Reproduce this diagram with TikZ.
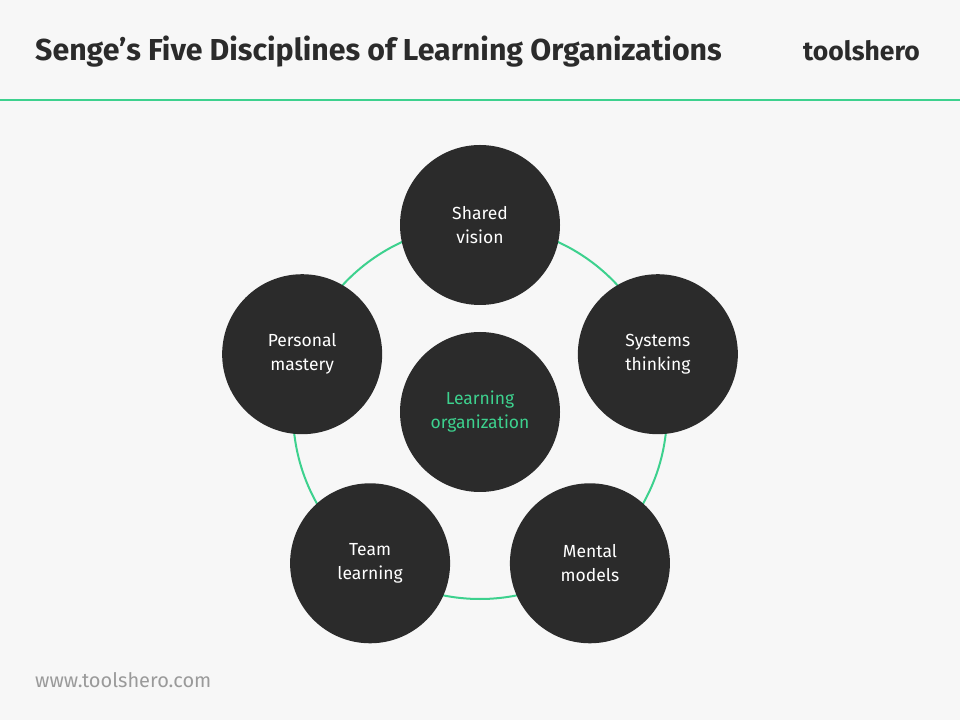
\documentclass[tikz,border=0pt]{standalone}
\usepackage{fontspec}
\setmainfont{Fira Sans}
\usepackage{xcolor}
\usetikzlibrary{positioning}
\definecolor{bg}{HTML}{F7F7F7}
\definecolor{disc}{HTML}{2B2B2B}
\definecolor{accent}{HTML}{3DD18E}
\definecolor{fg}{HTML}{2B2B2B}
\definecolor{muted}{HTML}{9A9A9A}

\begin{document}
\begin{tikzpicture}[x=1pt, y=1pt,
    discipline/.style={circle, fill=disc, text=white, minimum size=160pt,
      inner sep=0pt, align=center, font=\fontsize{17.5}{24}\selectfont}]
  \fill[bg] (0,0) rectangle (960,720);
  \useasboundingbox (0,0) rectangle (960,720);

  % header
  \node[anchor=base west, inner sep=0pt, text=fg,
        font=\fontsize{30.3}{34}\selectfont\bfseries] (title) at (35,659)
    {Senge’s Five Disciplines of Learning Organizations};
  \node[anchor=base east, inner sep=0pt, text=fg,
        font=\fontsize{26.5}{30}\selectfont\bfseries] (brand) at (920,659) {toolshero};
  \draw[accent, line width=2.5pt] (0,620) -- (960,620);

  % ring and disciplines
  \coordinate (hub) at (480,308);
  \draw[accent, line width=2pt] (hub) circle (187);
  \node[discipline] (vision)  at ([shift={(90:187)}]hub)  {Shared\\vision};
  \node[discipline] (systems) at ([shift={(18:187)}]hub)  {Systems\\thinking};
  \node[discipline] (models)  at ([shift={(-54:187)}]hub) {Mental\\models};
  \node[discipline] (team)    at ([shift={(234:187)}]hub) {Team\\learning};
  \node[discipline] (mastery) at ([shift={(162:187)}]hub) {Personal\\mastery};
  \node[discipline, text=accent] (core) at (hub) {Learning\\organization};

  % footer
  \node[anchor=base west, inner sep=0pt, text=muted,
        font=\fontsize{20}{24}\selectfont] (site) at (35,33) {www.toolshero.com};
\end{tikzpicture}
\end{document}
